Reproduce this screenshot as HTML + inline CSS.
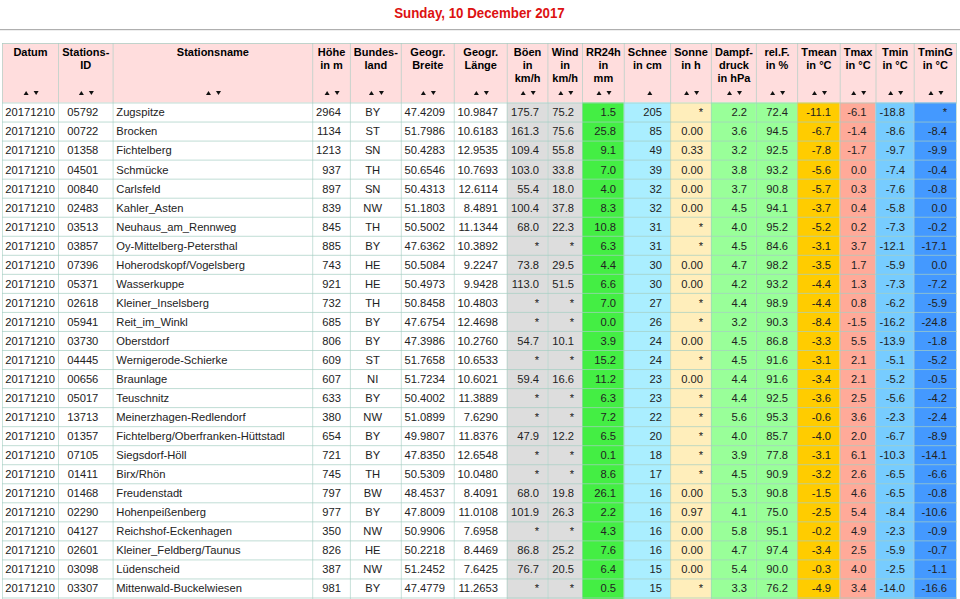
<!DOCTYPE html>
<html><head><meta charset="utf-8"><title>Tageswerte</title>
<style>
html,body{margin:0;padding:0;background:#fff;}
body{width:960px;height:599px;overflow:hidden;position:relative;font-family:"Liberation Sans",sans-serif;color:#000;}
h1{position:absolute;left:0;top:3.6px;width:959px;margin:0;text-align:center;font-size:13.3px;font-weight:bold;color:#dd1111;line-height:16px;transform:scaleY(1.16);transform-origin:50% 0px;}
.hr{position:absolute;left:0;top:29px;width:960px;height:1px;background:#afafaf;}
.hr2{position:absolute;left:0;top:30px;width:960px;height:1px;background:#eeeeee;}
svg{position:absolute;left:0;top:0;}
.t{position:absolute;font-size:11.2px;line-height:13px;white-space:nowrap;color:#222;}
.h{position:absolute;font-size:11px;font-weight:bold;line-height:13px;text-align:center;white-space:nowrap;}
.l{text-align:left;}
.r{text-align:right;}
.c{text-align:center;}
</style></head><body>
<h1>Sunday, 10 December 2017</h1>
<div class="hr"></div><div class="hr2"></div>

<svg width="960" height="599" viewBox="0 0 960 599"><rect x="2" y="43.0" width="955" height="59.5" fill="#ffdddd"/><rect x="506.75" y="102.5" width="40.65" height="496.5" fill="#dddddd"/><rect x="547.4" y="102.5" width="34.6" height="496.5" fill="#dddddd"/><rect x="582" y="102.5" width="41.8" height="496.5" fill="#44ee44"/><rect x="623.8" y="102.5" width="46.3" height="496.5" fill="#aaeeff"/><rect x="670.1" y="102.5" width="40.8" height="496.5" fill="#ffeebb"/><rect x="710.9" y="102.5" width="45" height="496.5" fill="#99ff99"/><rect x="755.9" y="102.5" width="41.2" height="496.5" fill="#99ff99"/><rect x="797.1" y="102.5" width="42.6" height="496.5" fill="#ffcc00"/><rect x="839.7" y="102.5" width="35.8" height="496.5" fill="#ffaa99"/><rect x="875.5" y="102.5" width="38.2" height="496.5" fill="#77ccff"/><rect x="913.7" y="102.5" width="42.3" height="496.5" fill="#4499ff"/><rect x="2" y="43" width="955" height="1" fill="#a5cec3" fill-opacity="0.7"/><rect x="2" y="102.5" width="955" height="1" fill="#a5cec3" fill-opacity="0.7"/><rect x="2" y="121.54" width="955" height="1" fill="#a5cec3" fill-opacity="0.7"/><rect x="2" y="140.58" width="955" height="1" fill="#a5cec3" fill-opacity="0.7"/><rect x="2" y="159.61" width="955" height="1" fill="#a5cec3" fill-opacity="0.7"/><rect x="2" y="178.65" width="955" height="1" fill="#a5cec3" fill-opacity="0.7"/><rect x="2" y="197.69" width="955" height="1" fill="#a5cec3" fill-opacity="0.7"/><rect x="2" y="216.73" width="955" height="1" fill="#a5cec3" fill-opacity="0.7"/><rect x="2" y="235.77" width="955" height="1" fill="#a5cec3" fill-opacity="0.7"/><rect x="2" y="254.8" width="955" height="1" fill="#a5cec3" fill-opacity="0.7"/><rect x="2" y="273.84" width="955" height="1" fill="#a5cec3" fill-opacity="0.7"/><rect x="2" y="292.88" width="955" height="1" fill="#a5cec3" fill-opacity="0.7"/><rect x="2" y="311.92" width="955" height="1" fill="#a5cec3" fill-opacity="0.7"/><rect x="2" y="330.96" width="955" height="1" fill="#a5cec3" fill-opacity="0.7"/><rect x="2" y="349.99" width="955" height="1" fill="#a5cec3" fill-opacity="0.7"/><rect x="2" y="369.03" width="955" height="1" fill="#a5cec3" fill-opacity="0.7"/><rect x="2" y="388.07" width="955" height="1" fill="#a5cec3" fill-opacity="0.7"/><rect x="2" y="407.11" width="955" height="1" fill="#a5cec3" fill-opacity="0.7"/><rect x="2" y="426.15" width="955" height="1" fill="#a5cec3" fill-opacity="0.7"/><rect x="2" y="445.18" width="955" height="1" fill="#a5cec3" fill-opacity="0.7"/><rect x="2" y="464.22" width="955" height="1" fill="#a5cec3" fill-opacity="0.7"/><rect x="2" y="483.26" width="955" height="1" fill="#a5cec3" fill-opacity="0.7"/><rect x="2" y="502.3" width="955" height="1" fill="#a5cec3" fill-opacity="0.7"/><rect x="2" y="521.34" width="955" height="1" fill="#a5cec3" fill-opacity="0.7"/><rect x="2" y="540.37" width="955" height="1" fill="#a5cec3" fill-opacity="0.7"/><rect x="2" y="559.41" width="955" height="1" fill="#a5cec3" fill-opacity="0.7"/><rect x="2" y="578.45" width="955" height="1" fill="#a5cec3" fill-opacity="0.7"/><rect x="2" y="597.49" width="955" height="1" fill="#a5cec3" fill-opacity="0.7"/><rect x="2" y="43.0" width="1" height="556.0" fill="#a5cec3" fill-opacity="0.6"/><rect x="58" y="43.0" width="1" height="556.0" fill="#a5cec3" fill-opacity="0.6"/><rect x="112.6" y="43.0" width="1" height="556.0" fill="#a5cec3" fill-opacity="0.6"/><rect x="312.2" y="43.0" width="1" height="556.0" fill="#a5cec3" fill-opacity="0.6"/><rect x="349.9" y="43.0" width="1" height="556.0" fill="#a5cec3" fill-opacity="0.6"/><rect x="400.8" y="43.0" width="1" height="556.0" fill="#a5cec3" fill-opacity="0.6"/><rect x="453.75" y="43.0" width="1" height="556.0" fill="#a5cec3" fill-opacity="0.6"/><rect x="506.75" y="43.0" width="1" height="556.0" fill="#a5cec3" fill-opacity="0.6"/><rect x="547.4" y="43.0" width="1" height="556.0" fill="#a5cec3" fill-opacity="0.6"/><rect x="582" y="43.0" width="1" height="556.0" fill="#a5cec3" fill-opacity="0.6"/><rect x="623.8" y="43.0" width="1" height="556.0" fill="#a5cec3" fill-opacity="0.6"/><rect x="670.1" y="43.0" width="1" height="556.0" fill="#a5cec3" fill-opacity="0.6"/><rect x="710.9" y="43.0" width="1" height="556.0" fill="#a5cec3" fill-opacity="0.6"/><rect x="755.9" y="43.0" width="1" height="556.0" fill="#a5cec3" fill-opacity="0.6"/><rect x="797.1" y="43.0" width="1" height="556.0" fill="#a5cec3" fill-opacity="0.6"/><rect x="839.7" y="43.0" width="1" height="556.0" fill="#a5cec3" fill-opacity="0.6"/><rect x="875.5" y="43.0" width="1" height="556.0" fill="#a5cec3" fill-opacity="0.6"/><rect x="913.7" y="43.0" width="1" height="556.0" fill="#a5cec3" fill-opacity="0.6"/><rect x="956" y="43.0" width="1" height="556.0" fill="#a5cec3" fill-opacity="0.6"/><path d="M23.6 95L26.1 91L28.6 95Z" fill="#111"/><path d="M33.6 91L38.6 91L36.1 95Z" fill="#111"/><path d="M78.9 95L81.4 91L83.9 95Z" fill="#111"/><path d="M88.9 91L93.9 91L91.4 95Z" fill="#111"/><path d="M206 95L208.5 91L211 95Z" fill="#111"/><path d="M216 91L221 91L218.5 95Z" fill="#111"/><path d="M324.65 95L327.15 91L329.65 95Z" fill="#111"/><path d="M334.65 91L339.65 91L337.15 95Z" fill="#111"/><path d="M368.95 95L371.45 91L373.95 95Z" fill="#111"/><path d="M378.95 91L383.95 91L381.45 95Z" fill="#111"/><path d="M420.88 95L423.38 91L425.88 95Z" fill="#111"/><path d="M430.88 91L435.88 91L433.38 95Z" fill="#111"/><path d="M473.85 95L476.35 91L478.85 95Z" fill="#111"/><path d="M483.85 91L488.85 91L486.35 95Z" fill="#111"/><path d="M520.68 95L523.18 91L525.68 95Z" fill="#111"/><path d="M530.68 91L535.68 91L533.18 95Z" fill="#111"/><path d="M558.3 95L560.8 91L563.3 95Z" fill="#111"/><path d="M568.3 91L573.3 91L570.8 95Z" fill="#111"/><path d="M596.5 95L599 91L601.5 95Z" fill="#111"/><path d="M606.5 91L611.5 91L609 95Z" fill="#111"/><path d="M647.3 95L649.8 91L652.3 95Z" fill="#111"/><path d="M684.1 95L686.6 91L689.1 95Z" fill="#111"/><path d="M694.1 91L699.1 91L696.6 95Z" fill="#111"/><path d="M727 95L729.5 91L732 95Z" fill="#111"/><path d="M737 91L742 91L739.5 95Z" fill="#111"/><path d="M770.1 95L772.6 91L775.1 95Z" fill="#111"/><path d="M780.1 91L785.1 91L782.6 95Z" fill="#111"/><path d="M812 95L814.5 91L817 95Z" fill="#111"/><path d="M822 91L827 91L824.5 95Z" fill="#111"/><path d="M851.2 95L853.7 91L856.2 95Z" fill="#111"/><path d="M861.2 91L866.2 91L863.7 95Z" fill="#111"/><path d="M888.2 95L890.7 91L893.2 95Z" fill="#111"/><path d="M898.2 91L903.2 91L900.7 95Z" fill="#111"/><path d="M928.45 95L930.95 91L933.45 95Z" fill="#111"/><path d="M938.45 91L943.45 91L940.95 95Z" fill="#111"/></svg>
<div class="h" style="left:-19.5px;top:46px;width:100px">Datum</div>
<div class="h" style="left:35.8px;top:46px;width:100px">Stations-<br>ID</div>
<div class="h" style="left:162.9px;top:46px;width:100px">Stationsname</div>
<div class="h" style="left:281.55px;top:46px;width:100px">Höhe<br>in m</div>
<div class="h" style="left:325.85px;top:46px;width:100px">Bundes-<br>land</div>
<div class="h" style="left:377.77px;top:46px;width:100px">Geogr.<br>Breite</div>
<div class="h" style="left:430.75px;top:46px;width:100px">Geogr.<br>Länge</div>
<div class="h" style="left:477.58px;top:46px;width:100px">Böen<br>in<br>km/h</div>
<div class="h" style="left:515.2px;top:46px;width:100px">Wind<br>in<br>km/h</div>
<div class="h" style="left:553.4px;top:46px;width:100px">RR24h<br>in<br>mm</div>
<div class="h" style="left:597.45px;top:46px;width:100px">Schnee<br>in cm</div>
<div class="h" style="left:641px;top:46px;width:100px">Sonne<br>in h</div>
<div class="h" style="left:683.9px;top:46px;width:100px">Dampf-<br>druck<br>in hPa</div>
<div class="h" style="left:727px;top:46px;width:100px">rel.F.<br>in %</div>
<div class="h" style="left:768.9px;top:46px;width:100px">Tmean<br>in °C</div>
<div class="h" style="left:808.1px;top:46px;width:100px">Tmax<br>in °C</div>
<div class="h" style="left:845.1px;top:46px;width:100px">Tmin<br>in °C</div>
<div class="h" style="left:885.35px;top:46px;width:100px">TminG<br>in °C</div>
<div class="t l" style="left:5.3px;top:106px">20171210</div>
<div class="t c" style="left:32.8px;width:100px;top:106px">05792</div>
<div class="t l" style="left:116.3px;top:106px">Zugspitze</div>
<div class="t r" style="left:141px;width:200px;top:106px">2964</div>
<div class="t c" style="left:322.7px;width:100px;top:106px">BY</div>
<div class="t r" style="left:245px;width:200px;top:106px">47.4209</div>
<div class="t r" style="left:298px;width:200px;top:106px">10.9847</div>
<div class="t r" style="left:339px;width:200px;top:106px">175.7</div>
<div class="t r" style="left:374px;width:200px;top:106px">75.2</div>
<div class="t r" style="left:416px;width:200px;top:106px">1.5</div>
<div class="t r" style="left:462px;width:200px;top:106px">205</div>
<div class="t r" style="left:503px;width:200px;top:106px">*</div>
<div class="t r" style="left:547px;width:200px;top:106px">2.2</div>
<div class="t r" style="left:588px;width:200px;top:106px">72.4</div>
<div class="t r" style="left:631px;width:200px;top:106px">-11.1</div>
<div class="t r" style="left:666.5px;width:200px;top:106px">-6.1</div>
<div class="t r" style="left:705px;width:200px;top:106px">-18.8</div>
<div class="t r" style="left:747px;width:200px;top:106px">*</div>
<div class="t l" style="left:5.3px;top:125px">20171210</div>
<div class="t c" style="left:32.8px;width:100px;top:125px">00722</div>
<div class="t l" style="left:116.3px;top:125px">Brocken</div>
<div class="t r" style="left:141px;width:200px;top:125px">1134</div>
<div class="t c" style="left:322.7px;width:100px;top:125px">ST</div>
<div class="t r" style="left:245px;width:200px;top:125px">51.7986</div>
<div class="t r" style="left:298px;width:200px;top:125px">10.6183</div>
<div class="t r" style="left:339px;width:200px;top:125px">161.3</div>
<div class="t r" style="left:374px;width:200px;top:125px">75.6</div>
<div class="t r" style="left:416px;width:200px;top:125px">25.8</div>
<div class="t r" style="left:462px;width:200px;top:125px">85</div>
<div class="t r" style="left:503px;width:200px;top:125px">0.00</div>
<div class="t r" style="left:547px;width:200px;top:125px">3.6</div>
<div class="t r" style="left:588px;width:200px;top:125px">94.5</div>
<div class="t r" style="left:631px;width:200px;top:125px">-6.7</div>
<div class="t r" style="left:666.5px;width:200px;top:125px">-1.4</div>
<div class="t r" style="left:705px;width:200px;top:125px">-8.6</div>
<div class="t r" style="left:747px;width:200px;top:125px">-8.4</div>
<div class="t l" style="left:5.3px;top:144px">20171210</div>
<div class="t c" style="left:32.8px;width:100px;top:144px">01358</div>
<div class="t l" style="left:116.3px;top:144px">Fichtelberg</div>
<div class="t r" style="left:141px;width:200px;top:144px">1213</div>
<div class="t c" style="left:322.7px;width:100px;top:144px">SN</div>
<div class="t r" style="left:245px;width:200px;top:144px">50.4283</div>
<div class="t r" style="left:298px;width:200px;top:144px">12.9535</div>
<div class="t r" style="left:339px;width:200px;top:144px">109.4</div>
<div class="t r" style="left:374px;width:200px;top:144px">55.8</div>
<div class="t r" style="left:416px;width:200px;top:144px">9.1</div>
<div class="t r" style="left:462px;width:200px;top:144px">49</div>
<div class="t r" style="left:503px;width:200px;top:144px">0.33</div>
<div class="t r" style="left:547px;width:200px;top:144px">3.2</div>
<div class="t r" style="left:588px;width:200px;top:144px">92.5</div>
<div class="t r" style="left:631px;width:200px;top:144px">-7.8</div>
<div class="t r" style="left:666.5px;width:200px;top:144px">-1.7</div>
<div class="t r" style="left:705px;width:200px;top:144px">-9.7</div>
<div class="t r" style="left:747px;width:200px;top:144px">-9.9</div>
<div class="t l" style="left:5.3px;top:164px">20171210</div>
<div class="t c" style="left:32.8px;width:100px;top:164px">04501</div>
<div class="t l" style="left:116.3px;top:164px">Schmücke</div>
<div class="t r" style="left:141px;width:200px;top:164px">937</div>
<div class="t c" style="left:322.7px;width:100px;top:164px">TH</div>
<div class="t r" style="left:245px;width:200px;top:164px">50.6546</div>
<div class="t r" style="left:298px;width:200px;top:164px">10.7693</div>
<div class="t r" style="left:339px;width:200px;top:164px">103.0</div>
<div class="t r" style="left:374px;width:200px;top:164px">33.8</div>
<div class="t r" style="left:416px;width:200px;top:164px">7.0</div>
<div class="t r" style="left:462px;width:200px;top:164px">39</div>
<div class="t r" style="left:503px;width:200px;top:164px">0.00</div>
<div class="t r" style="left:547px;width:200px;top:164px">3.8</div>
<div class="t r" style="left:588px;width:200px;top:164px">93.2</div>
<div class="t r" style="left:631px;width:200px;top:164px">-5.6</div>
<div class="t r" style="left:666.5px;width:200px;top:164px">0.0</div>
<div class="t r" style="left:705px;width:200px;top:164px">-7.4</div>
<div class="t r" style="left:747px;width:200px;top:164px">-0.4</div>
<div class="t l" style="left:5.3px;top:183px">20171210</div>
<div class="t c" style="left:32.8px;width:100px;top:183px">00840</div>
<div class="t l" style="left:116.3px;top:183px">Carlsfeld</div>
<div class="t r" style="left:141px;width:200px;top:183px">897</div>
<div class="t c" style="left:322.7px;width:100px;top:183px">SN</div>
<div class="t r" style="left:245px;width:200px;top:183px">50.4313</div>
<div class="t r" style="left:298px;width:200px;top:183px">12.6114</div>
<div class="t r" style="left:339px;width:200px;top:183px">55.4</div>
<div class="t r" style="left:374px;width:200px;top:183px">18.0</div>
<div class="t r" style="left:416px;width:200px;top:183px">4.0</div>
<div class="t r" style="left:462px;width:200px;top:183px">32</div>
<div class="t r" style="left:503px;width:200px;top:183px">0.00</div>
<div class="t r" style="left:547px;width:200px;top:183px">3.7</div>
<div class="t r" style="left:588px;width:200px;top:183px">90.8</div>
<div class="t r" style="left:631px;width:200px;top:183px">-5.7</div>
<div class="t r" style="left:666.5px;width:200px;top:183px">0.3</div>
<div class="t r" style="left:705px;width:200px;top:183px">-7.6</div>
<div class="t r" style="left:747px;width:200px;top:183px">-0.8</div>
<div class="t l" style="left:5.3px;top:202px">20171210</div>
<div class="t c" style="left:32.8px;width:100px;top:202px">02483</div>
<div class="t l" style="left:116.3px;top:202px">Kahler_Asten</div>
<div class="t r" style="left:141px;width:200px;top:202px">839</div>
<div class="t c" style="left:322.7px;width:100px;top:202px">NW</div>
<div class="t r" style="left:245px;width:200px;top:202px">51.1803</div>
<div class="t r" style="left:298px;width:200px;top:202px">8.4891</div>
<div class="t r" style="left:339px;width:200px;top:202px">100.4</div>
<div class="t r" style="left:374px;width:200px;top:202px">37.8</div>
<div class="t r" style="left:416px;width:200px;top:202px">8.3</div>
<div class="t r" style="left:462px;width:200px;top:202px">32</div>
<div class="t r" style="left:503px;width:200px;top:202px">0.00</div>
<div class="t r" style="left:547px;width:200px;top:202px">4.5</div>
<div class="t r" style="left:588px;width:200px;top:202px">94.1</div>
<div class="t r" style="left:631px;width:200px;top:202px">-3.7</div>
<div class="t r" style="left:666.5px;width:200px;top:202px">0.4</div>
<div class="t r" style="left:705px;width:200px;top:202px">-5.8</div>
<div class="t r" style="left:747px;width:200px;top:202px">0.0</div>
<div class="t l" style="left:5.3px;top:221px">20171210</div>
<div class="t c" style="left:32.8px;width:100px;top:221px">03513</div>
<div class="t l" style="left:116.3px;top:221px">Neuhaus_am_Rennweg</div>
<div class="t r" style="left:141px;width:200px;top:221px">845</div>
<div class="t c" style="left:322.7px;width:100px;top:221px">TH</div>
<div class="t r" style="left:245px;width:200px;top:221px">50.5002</div>
<div class="t r" style="left:298px;width:200px;top:221px">11.1344</div>
<div class="t r" style="left:339px;width:200px;top:221px">68.0</div>
<div class="t r" style="left:374px;width:200px;top:221px">22.3</div>
<div class="t r" style="left:416px;width:200px;top:221px">10.8</div>
<div class="t r" style="left:462px;width:200px;top:221px">31</div>
<div class="t r" style="left:503px;width:200px;top:221px">*</div>
<div class="t r" style="left:547px;width:200px;top:221px">4.0</div>
<div class="t r" style="left:588px;width:200px;top:221px">95.2</div>
<div class="t r" style="left:631px;width:200px;top:221px">-5.2</div>
<div class="t r" style="left:666.5px;width:200px;top:221px">0.2</div>
<div class="t r" style="left:705px;width:200px;top:221px">-7.3</div>
<div class="t r" style="left:747px;width:200px;top:221px">-0.2</div>
<div class="t l" style="left:5.3px;top:240px">20171210</div>
<div class="t c" style="left:32.8px;width:100px;top:240px">03857</div>
<div class="t l" style="left:116.3px;top:240px">Oy-Mittelberg-Petersthal</div>
<div class="t r" style="left:141px;width:200px;top:240px">885</div>
<div class="t c" style="left:322.7px;width:100px;top:240px">BY</div>
<div class="t r" style="left:245px;width:200px;top:240px">47.6362</div>
<div class="t r" style="left:298px;width:200px;top:240px">10.3892</div>
<div class="t r" style="left:339px;width:200px;top:240px">*</div>
<div class="t r" style="left:374px;width:200px;top:240px">*</div>
<div class="t r" style="left:416px;width:200px;top:240px">6.3</div>
<div class="t r" style="left:462px;width:200px;top:240px">31</div>
<div class="t r" style="left:503px;width:200px;top:240px">*</div>
<div class="t r" style="left:547px;width:200px;top:240px">4.5</div>
<div class="t r" style="left:588px;width:200px;top:240px">84.6</div>
<div class="t r" style="left:631px;width:200px;top:240px">-3.1</div>
<div class="t r" style="left:666.5px;width:200px;top:240px">3.7</div>
<div class="t r" style="left:705px;width:200px;top:240px">-12.1</div>
<div class="t r" style="left:747px;width:200px;top:240px">-17.1</div>
<div class="t l" style="left:5.3px;top:259px">20171210</div>
<div class="t c" style="left:32.8px;width:100px;top:259px">07396</div>
<div class="t l" style="left:116.3px;top:259px">Hoherodskopf/Vogelsberg</div>
<div class="t r" style="left:141px;width:200px;top:259px">743</div>
<div class="t c" style="left:322.7px;width:100px;top:259px">HE</div>
<div class="t r" style="left:245px;width:200px;top:259px">50.5084</div>
<div class="t r" style="left:298px;width:200px;top:259px">9.2247</div>
<div class="t r" style="left:339px;width:200px;top:259px">73.8</div>
<div class="t r" style="left:374px;width:200px;top:259px">29.5</div>
<div class="t r" style="left:416px;width:200px;top:259px">4.4</div>
<div class="t r" style="left:462px;width:200px;top:259px">30</div>
<div class="t r" style="left:503px;width:200px;top:259px">0.00</div>
<div class="t r" style="left:547px;width:200px;top:259px">4.7</div>
<div class="t r" style="left:588px;width:200px;top:259px">98.2</div>
<div class="t r" style="left:631px;width:200px;top:259px">-3.5</div>
<div class="t r" style="left:666.5px;width:200px;top:259px">1.7</div>
<div class="t r" style="left:705px;width:200px;top:259px">-5.9</div>
<div class="t r" style="left:747px;width:200px;top:259px">0.0</div>
<div class="t l" style="left:5.3px;top:278px">20171210</div>
<div class="t c" style="left:32.8px;width:100px;top:278px">05371</div>
<div class="t l" style="left:116.3px;top:278px">Wasserkuppe</div>
<div class="t r" style="left:141px;width:200px;top:278px">921</div>
<div class="t c" style="left:322.7px;width:100px;top:278px">HE</div>
<div class="t r" style="left:245px;width:200px;top:278px">50.4973</div>
<div class="t r" style="left:298px;width:200px;top:278px">9.9428</div>
<div class="t r" style="left:339px;width:200px;top:278px">113.0</div>
<div class="t r" style="left:374px;width:200px;top:278px">51.5</div>
<div class="t r" style="left:416px;width:200px;top:278px">6.6</div>
<div class="t r" style="left:462px;width:200px;top:278px">30</div>
<div class="t r" style="left:503px;width:200px;top:278px">0.00</div>
<div class="t r" style="left:547px;width:200px;top:278px">4.2</div>
<div class="t r" style="left:588px;width:200px;top:278px">93.2</div>
<div class="t r" style="left:631px;width:200px;top:278px">-4.4</div>
<div class="t r" style="left:666.5px;width:200px;top:278px">1.3</div>
<div class="t r" style="left:705px;width:200px;top:278px">-7.3</div>
<div class="t r" style="left:747px;width:200px;top:278px">-7.2</div>
<div class="t l" style="left:5.3px;top:297px">20171210</div>
<div class="t c" style="left:32.8px;width:100px;top:297px">02618</div>
<div class="t l" style="left:116.3px;top:297px">Kleiner_Inselsberg</div>
<div class="t r" style="left:141px;width:200px;top:297px">732</div>
<div class="t c" style="left:322.7px;width:100px;top:297px">TH</div>
<div class="t r" style="left:245px;width:200px;top:297px">50.8458</div>
<div class="t r" style="left:298px;width:200px;top:297px">10.4803</div>
<div class="t r" style="left:339px;width:200px;top:297px">*</div>
<div class="t r" style="left:374px;width:200px;top:297px">*</div>
<div class="t r" style="left:416px;width:200px;top:297px">7.0</div>
<div class="t r" style="left:462px;width:200px;top:297px">27</div>
<div class="t r" style="left:503px;width:200px;top:297px">*</div>
<div class="t r" style="left:547px;width:200px;top:297px">4.4</div>
<div class="t r" style="left:588px;width:200px;top:297px">98.9</div>
<div class="t r" style="left:631px;width:200px;top:297px">-4.4</div>
<div class="t r" style="left:666.5px;width:200px;top:297px">0.8</div>
<div class="t r" style="left:705px;width:200px;top:297px">-6.2</div>
<div class="t r" style="left:747px;width:200px;top:297px">-5.9</div>
<div class="t l" style="left:5.3px;top:316px">20171210</div>
<div class="t c" style="left:32.8px;width:100px;top:316px">05941</div>
<div class="t l" style="left:116.3px;top:316px">Reit_im_Winkl</div>
<div class="t r" style="left:141px;width:200px;top:316px">685</div>
<div class="t c" style="left:322.7px;width:100px;top:316px">BY</div>
<div class="t r" style="left:245px;width:200px;top:316px">47.6754</div>
<div class="t r" style="left:298px;width:200px;top:316px">12.4698</div>
<div class="t r" style="left:339px;width:200px;top:316px">*</div>
<div class="t r" style="left:374px;width:200px;top:316px">*</div>
<div class="t r" style="left:416px;width:200px;top:316px">0.0</div>
<div class="t r" style="left:462px;width:200px;top:316px">26</div>
<div class="t r" style="left:503px;width:200px;top:316px">*</div>
<div class="t r" style="left:547px;width:200px;top:316px">3.2</div>
<div class="t r" style="left:588px;width:200px;top:316px">90.3</div>
<div class="t r" style="left:631px;width:200px;top:316px">-8.4</div>
<div class="t r" style="left:666.5px;width:200px;top:316px">-1.5</div>
<div class="t r" style="left:705px;width:200px;top:316px">-16.2</div>
<div class="t r" style="left:747px;width:200px;top:316px">-24.8</div>
<div class="t l" style="left:5.3px;top:335px">20171210</div>
<div class="t c" style="left:32.8px;width:100px;top:335px">03730</div>
<div class="t l" style="left:116.3px;top:335px">Oberstdorf</div>
<div class="t r" style="left:141px;width:200px;top:335px">806</div>
<div class="t c" style="left:322.7px;width:100px;top:335px">BY</div>
<div class="t r" style="left:245px;width:200px;top:335px">47.3986</div>
<div class="t r" style="left:298px;width:200px;top:335px">10.2760</div>
<div class="t r" style="left:339px;width:200px;top:335px">54.7</div>
<div class="t r" style="left:374px;width:200px;top:335px">10.1</div>
<div class="t r" style="left:416px;width:200px;top:335px">3.9</div>
<div class="t r" style="left:462px;width:200px;top:335px">24</div>
<div class="t r" style="left:503px;width:200px;top:335px">0.00</div>
<div class="t r" style="left:547px;width:200px;top:335px">4.5</div>
<div class="t r" style="left:588px;width:200px;top:335px">86.8</div>
<div class="t r" style="left:631px;width:200px;top:335px">-3.3</div>
<div class="t r" style="left:666.5px;width:200px;top:335px">5.5</div>
<div class="t r" style="left:705px;width:200px;top:335px">-13.9</div>
<div class="t r" style="left:747px;width:200px;top:335px">-1.8</div>
<div class="t l" style="left:5.3px;top:354px">20171210</div>
<div class="t c" style="left:32.8px;width:100px;top:354px">04445</div>
<div class="t l" style="left:116.3px;top:354px">Wernigerode-Schierke</div>
<div class="t r" style="left:141px;width:200px;top:354px">609</div>
<div class="t c" style="left:322.7px;width:100px;top:354px">ST</div>
<div class="t r" style="left:245px;width:200px;top:354px">51.7658</div>
<div class="t r" style="left:298px;width:200px;top:354px">10.6533</div>
<div class="t r" style="left:339px;width:200px;top:354px">*</div>
<div class="t r" style="left:374px;width:200px;top:354px">*</div>
<div class="t r" style="left:416px;width:200px;top:354px">15.2</div>
<div class="t r" style="left:462px;width:200px;top:354px">24</div>
<div class="t r" style="left:503px;width:200px;top:354px">*</div>
<div class="t r" style="left:547px;width:200px;top:354px">4.5</div>
<div class="t r" style="left:588px;width:200px;top:354px">91.6</div>
<div class="t r" style="left:631px;width:200px;top:354px">-3.1</div>
<div class="t r" style="left:666.5px;width:200px;top:354px">2.1</div>
<div class="t r" style="left:705px;width:200px;top:354px">-5.1</div>
<div class="t r" style="left:747px;width:200px;top:354px">-5.2</div>
<div class="t l" style="left:5.3px;top:373px">20171210</div>
<div class="t c" style="left:32.8px;width:100px;top:373px">00656</div>
<div class="t l" style="left:116.3px;top:373px">Braunlage</div>
<div class="t r" style="left:141px;width:200px;top:373px">607</div>
<div class="t c" style="left:322.7px;width:100px;top:373px">NI</div>
<div class="t r" style="left:245px;width:200px;top:373px">51.7234</div>
<div class="t r" style="left:298px;width:200px;top:373px">10.6021</div>
<div class="t r" style="left:339px;width:200px;top:373px">59.4</div>
<div class="t r" style="left:374px;width:200px;top:373px">16.6</div>
<div class="t r" style="left:416px;width:200px;top:373px">11.2</div>
<div class="t r" style="left:462px;width:200px;top:373px">23</div>
<div class="t r" style="left:503px;width:200px;top:373px">0.00</div>
<div class="t r" style="left:547px;width:200px;top:373px">4.4</div>
<div class="t r" style="left:588px;width:200px;top:373px">91.6</div>
<div class="t r" style="left:631px;width:200px;top:373px">-3.4</div>
<div class="t r" style="left:666.5px;width:200px;top:373px">2.1</div>
<div class="t r" style="left:705px;width:200px;top:373px">-5.2</div>
<div class="t r" style="left:747px;width:200px;top:373px">-0.5</div>
<div class="t l" style="left:5.3px;top:392px">20171210</div>
<div class="t c" style="left:32.8px;width:100px;top:392px">05017</div>
<div class="t l" style="left:116.3px;top:392px">Teuschnitz</div>
<div class="t r" style="left:141px;width:200px;top:392px">633</div>
<div class="t c" style="left:322.7px;width:100px;top:392px">BY</div>
<div class="t r" style="left:245px;width:200px;top:392px">50.4002</div>
<div class="t r" style="left:298px;width:200px;top:392px">11.3889</div>
<div class="t r" style="left:339px;width:200px;top:392px">*</div>
<div class="t r" style="left:374px;width:200px;top:392px">*</div>
<div class="t r" style="left:416px;width:200px;top:392px">6.3</div>
<div class="t r" style="left:462px;width:200px;top:392px">23</div>
<div class="t r" style="left:503px;width:200px;top:392px">*</div>
<div class="t r" style="left:547px;width:200px;top:392px">4.4</div>
<div class="t r" style="left:588px;width:200px;top:392px">92.5</div>
<div class="t r" style="left:631px;width:200px;top:392px">-3.6</div>
<div class="t r" style="left:666.5px;width:200px;top:392px">2.5</div>
<div class="t r" style="left:705px;width:200px;top:392px">-5.6</div>
<div class="t r" style="left:747px;width:200px;top:392px">-4.2</div>
<div class="t l" style="left:5.3px;top:411px">20171210</div>
<div class="t c" style="left:32.8px;width:100px;top:411px">13713</div>
<div class="t l" style="left:116.3px;top:411px">Meinerzhagen-Redlendorf</div>
<div class="t r" style="left:141px;width:200px;top:411px">380</div>
<div class="t c" style="left:322.7px;width:100px;top:411px">NW</div>
<div class="t r" style="left:245px;width:200px;top:411px">51.0899</div>
<div class="t r" style="left:298px;width:200px;top:411px">7.6290</div>
<div class="t r" style="left:339px;width:200px;top:411px">*</div>
<div class="t r" style="left:374px;width:200px;top:411px">*</div>
<div class="t r" style="left:416px;width:200px;top:411px">7.2</div>
<div class="t r" style="left:462px;width:200px;top:411px">22</div>
<div class="t r" style="left:503px;width:200px;top:411px">*</div>
<div class="t r" style="left:547px;width:200px;top:411px">5.6</div>
<div class="t r" style="left:588px;width:200px;top:411px">95.3</div>
<div class="t r" style="left:631px;width:200px;top:411px">-0.6</div>
<div class="t r" style="left:666.5px;width:200px;top:411px">3.6</div>
<div class="t r" style="left:705px;width:200px;top:411px">-2.3</div>
<div class="t r" style="left:747px;width:200px;top:411px">-2.4</div>
<div class="t l" style="left:5.3px;top:430px">20171210</div>
<div class="t c" style="left:32.8px;width:100px;top:430px">01357</div>
<div class="t l" style="left:116.3px;top:430px">Fichtelberg/Oberfranken-Hüttstadl</div>
<div class="t r" style="left:141px;width:200px;top:430px">654</div>
<div class="t c" style="left:322.7px;width:100px;top:430px">BY</div>
<div class="t r" style="left:245px;width:200px;top:430px">49.9807</div>
<div class="t r" style="left:298px;width:200px;top:430px">11.8376</div>
<div class="t r" style="left:339px;width:200px;top:430px">47.9</div>
<div class="t r" style="left:374px;width:200px;top:430px">12.2</div>
<div class="t r" style="left:416px;width:200px;top:430px">6.5</div>
<div class="t r" style="left:462px;width:200px;top:430px">20</div>
<div class="t r" style="left:503px;width:200px;top:430px">*</div>
<div class="t r" style="left:547px;width:200px;top:430px">4.0</div>
<div class="t r" style="left:588px;width:200px;top:430px">85.7</div>
<div class="t r" style="left:631px;width:200px;top:430px">-4.0</div>
<div class="t r" style="left:666.5px;width:200px;top:430px">2.0</div>
<div class="t r" style="left:705px;width:200px;top:430px">-6.7</div>
<div class="t r" style="left:747px;width:200px;top:430px">-8.9</div>
<div class="t l" style="left:5.3px;top:449px">20171210</div>
<div class="t c" style="left:32.8px;width:100px;top:449px">07105</div>
<div class="t l" style="left:116.3px;top:449px">Siegsdorf-Höll</div>
<div class="t r" style="left:141px;width:200px;top:449px">721</div>
<div class="t c" style="left:322.7px;width:100px;top:449px">BY</div>
<div class="t r" style="left:245px;width:200px;top:449px">47.8350</div>
<div class="t r" style="left:298px;width:200px;top:449px">12.6548</div>
<div class="t r" style="left:339px;width:200px;top:449px">*</div>
<div class="t r" style="left:374px;width:200px;top:449px">*</div>
<div class="t r" style="left:416px;width:200px;top:449px">0.1</div>
<div class="t r" style="left:462px;width:200px;top:449px">18</div>
<div class="t r" style="left:503px;width:200px;top:449px">*</div>
<div class="t r" style="left:547px;width:200px;top:449px">3.9</div>
<div class="t r" style="left:588px;width:200px;top:449px">77.8</div>
<div class="t r" style="left:631px;width:200px;top:449px">-3.1</div>
<div class="t r" style="left:666.5px;width:200px;top:449px">6.1</div>
<div class="t r" style="left:705px;width:200px;top:449px">-10.3</div>
<div class="t r" style="left:747px;width:200px;top:449px">-14.1</div>
<div class="t l" style="left:5.3px;top:468px">20171210</div>
<div class="t c" style="left:32.8px;width:100px;top:468px">01411</div>
<div class="t l" style="left:116.3px;top:468px">Birx/Rhön</div>
<div class="t r" style="left:141px;width:200px;top:468px">745</div>
<div class="t c" style="left:322.7px;width:100px;top:468px">TH</div>
<div class="t r" style="left:245px;width:200px;top:468px">50.5309</div>
<div class="t r" style="left:298px;width:200px;top:468px">10.0480</div>
<div class="t r" style="left:339px;width:200px;top:468px">*</div>
<div class="t r" style="left:374px;width:200px;top:468px">*</div>
<div class="t r" style="left:416px;width:200px;top:468px">8.6</div>
<div class="t r" style="left:462px;width:200px;top:468px">17</div>
<div class="t r" style="left:503px;width:200px;top:468px">*</div>
<div class="t r" style="left:547px;width:200px;top:468px">4.5</div>
<div class="t r" style="left:588px;width:200px;top:468px">90.9</div>
<div class="t r" style="left:631px;width:200px;top:468px">-3.2</div>
<div class="t r" style="left:666.5px;width:200px;top:468px">2.6</div>
<div class="t r" style="left:705px;width:200px;top:468px">-6.5</div>
<div class="t r" style="left:747px;width:200px;top:468px">-6.6</div>
<div class="t l" style="left:5.3px;top:487px">20171210</div>
<div class="t c" style="left:32.8px;width:100px;top:487px">01468</div>
<div class="t l" style="left:116.3px;top:487px">Freudenstadt</div>
<div class="t r" style="left:141px;width:200px;top:487px">797</div>
<div class="t c" style="left:322.7px;width:100px;top:487px">BW</div>
<div class="t r" style="left:245px;width:200px;top:487px">48.4537</div>
<div class="t r" style="left:298px;width:200px;top:487px">8.4091</div>
<div class="t r" style="left:339px;width:200px;top:487px">68.0</div>
<div class="t r" style="left:374px;width:200px;top:487px">19.8</div>
<div class="t r" style="left:416px;width:200px;top:487px">26.1</div>
<div class="t r" style="left:462px;width:200px;top:487px">16</div>
<div class="t r" style="left:503px;width:200px;top:487px">0.00</div>
<div class="t r" style="left:547px;width:200px;top:487px">5.3</div>
<div class="t r" style="left:588px;width:200px;top:487px">90.8</div>
<div class="t r" style="left:631px;width:200px;top:487px">-1.5</div>
<div class="t r" style="left:666.5px;width:200px;top:487px">4.6</div>
<div class="t r" style="left:705px;width:200px;top:487px">-6.5</div>
<div class="t r" style="left:747px;width:200px;top:487px">-0.8</div>
<div class="t l" style="left:5.3px;top:506px">20171210</div>
<div class="t c" style="left:32.8px;width:100px;top:506px">02290</div>
<div class="t l" style="left:116.3px;top:506px">Hohenpeißenberg</div>
<div class="t r" style="left:141px;width:200px;top:506px">977</div>
<div class="t c" style="left:322.7px;width:100px;top:506px">BY</div>
<div class="t r" style="left:245px;width:200px;top:506px">47.8009</div>
<div class="t r" style="left:298px;width:200px;top:506px">11.0108</div>
<div class="t r" style="left:339px;width:200px;top:506px">101.9</div>
<div class="t r" style="left:374px;width:200px;top:506px">26.3</div>
<div class="t r" style="left:416px;width:200px;top:506px">2.2</div>
<div class="t r" style="left:462px;width:200px;top:506px">16</div>
<div class="t r" style="left:503px;width:200px;top:506px">0.97</div>
<div class="t r" style="left:547px;width:200px;top:506px">4.1</div>
<div class="t r" style="left:588px;width:200px;top:506px">75.0</div>
<div class="t r" style="left:631px;width:200px;top:506px">-2.5</div>
<div class="t r" style="left:666.5px;width:200px;top:506px">5.4</div>
<div class="t r" style="left:705px;width:200px;top:506px">-8.4</div>
<div class="t r" style="left:747px;width:200px;top:506px">-10.6</div>
<div class="t l" style="left:5.3px;top:525px">20171210</div>
<div class="t c" style="left:32.8px;width:100px;top:525px">04127</div>
<div class="t l" style="left:116.3px;top:525px">Reichshof-Eckenhagen</div>
<div class="t r" style="left:141px;width:200px;top:525px">350</div>
<div class="t c" style="left:322.7px;width:100px;top:525px">NW</div>
<div class="t r" style="left:245px;width:200px;top:525px">50.9906</div>
<div class="t r" style="left:298px;width:200px;top:525px">7.6958</div>
<div class="t r" style="left:339px;width:200px;top:525px">*</div>
<div class="t r" style="left:374px;width:200px;top:525px">*</div>
<div class="t r" style="left:416px;width:200px;top:525px">4.3</div>
<div class="t r" style="left:462px;width:200px;top:525px">16</div>
<div class="t r" style="left:503px;width:200px;top:525px">0.00</div>
<div class="t r" style="left:547px;width:200px;top:525px">5.8</div>
<div class="t r" style="left:588px;width:200px;top:525px">95.1</div>
<div class="t r" style="left:631px;width:200px;top:525px">-0.2</div>
<div class="t r" style="left:666.5px;width:200px;top:525px">4.9</div>
<div class="t r" style="left:705px;width:200px;top:525px">-2.3</div>
<div class="t r" style="left:747px;width:200px;top:525px">-0.9</div>
<div class="t l" style="left:5.3px;top:544px">20171210</div>
<div class="t c" style="left:32.8px;width:100px;top:544px">02601</div>
<div class="t l" style="left:116.3px;top:544px">Kleiner_Feldberg/Taunus</div>
<div class="t r" style="left:141px;width:200px;top:544px">826</div>
<div class="t c" style="left:322.7px;width:100px;top:544px">HE</div>
<div class="t r" style="left:245px;width:200px;top:544px">50.2218</div>
<div class="t r" style="left:298px;width:200px;top:544px">8.4469</div>
<div class="t r" style="left:339px;width:200px;top:544px">86.8</div>
<div class="t r" style="left:374px;width:200px;top:544px">25.2</div>
<div class="t r" style="left:416px;width:200px;top:544px">7.6</div>
<div class="t r" style="left:462px;width:200px;top:544px">16</div>
<div class="t r" style="left:503px;width:200px;top:544px">0.00</div>
<div class="t r" style="left:547px;width:200px;top:544px">4.7</div>
<div class="t r" style="left:588px;width:200px;top:544px">97.4</div>
<div class="t r" style="left:631px;width:200px;top:544px">-3.4</div>
<div class="t r" style="left:666.5px;width:200px;top:544px">2.5</div>
<div class="t r" style="left:705px;width:200px;top:544px">-5.9</div>
<div class="t r" style="left:747px;width:200px;top:544px">-0.7</div>
<div class="t l" style="left:5.3px;top:563px">20171210</div>
<div class="t c" style="left:32.8px;width:100px;top:563px">03098</div>
<div class="t l" style="left:116.3px;top:563px">Lüdenscheid</div>
<div class="t r" style="left:141px;width:200px;top:563px">387</div>
<div class="t c" style="left:322.7px;width:100px;top:563px">NW</div>
<div class="t r" style="left:245px;width:200px;top:563px">51.2452</div>
<div class="t r" style="left:298px;width:200px;top:563px">7.6425</div>
<div class="t r" style="left:339px;width:200px;top:563px">76.7</div>
<div class="t r" style="left:374px;width:200px;top:563px">20.5</div>
<div class="t r" style="left:416px;width:200px;top:563px">6.4</div>
<div class="t r" style="left:462px;width:200px;top:563px">15</div>
<div class="t r" style="left:503px;width:200px;top:563px">0.00</div>
<div class="t r" style="left:547px;width:200px;top:563px">5.4</div>
<div class="t r" style="left:588px;width:200px;top:563px">90.0</div>
<div class="t r" style="left:631px;width:200px;top:563px">-0.3</div>
<div class="t r" style="left:666.5px;width:200px;top:563px">4.0</div>
<div class="t r" style="left:705px;width:200px;top:563px">-2.5</div>
<div class="t r" style="left:747px;width:200px;top:563px">-1.1</div>
<div class="t l" style="left:5.3px;top:582px">20171210</div>
<div class="t c" style="left:32.8px;width:100px;top:582px">03307</div>
<div class="t l" style="left:116.3px;top:582px">Mittenwald-Buckelwiesen</div>
<div class="t r" style="left:141px;width:200px;top:582px">981</div>
<div class="t c" style="left:322.7px;width:100px;top:582px">BY</div>
<div class="t r" style="left:245px;width:200px;top:582px">47.4779</div>
<div class="t r" style="left:298px;width:200px;top:582px">11.2653</div>
<div class="t r" style="left:339px;width:200px;top:582px">*</div>
<div class="t r" style="left:374px;width:200px;top:582px">*</div>
<div class="t r" style="left:416px;width:200px;top:582px">0.5</div>
<div class="t r" style="left:462px;width:200px;top:582px">15</div>
<div class="t r" style="left:503px;width:200px;top:582px">*</div>
<div class="t r" style="left:547px;width:200px;top:582px">3.3</div>
<div class="t r" style="left:588px;width:200px;top:582px">76.2</div>
<div class="t r" style="left:631px;width:200px;top:582px">-4.9</div>
<div class="t r" style="left:666.5px;width:200px;top:582px">3.4</div>
<div class="t r" style="left:705px;width:200px;top:582px">-14.0</div>
<div class="t r" style="left:747px;width:200px;top:582px">-16.6</div>
</body></html>
